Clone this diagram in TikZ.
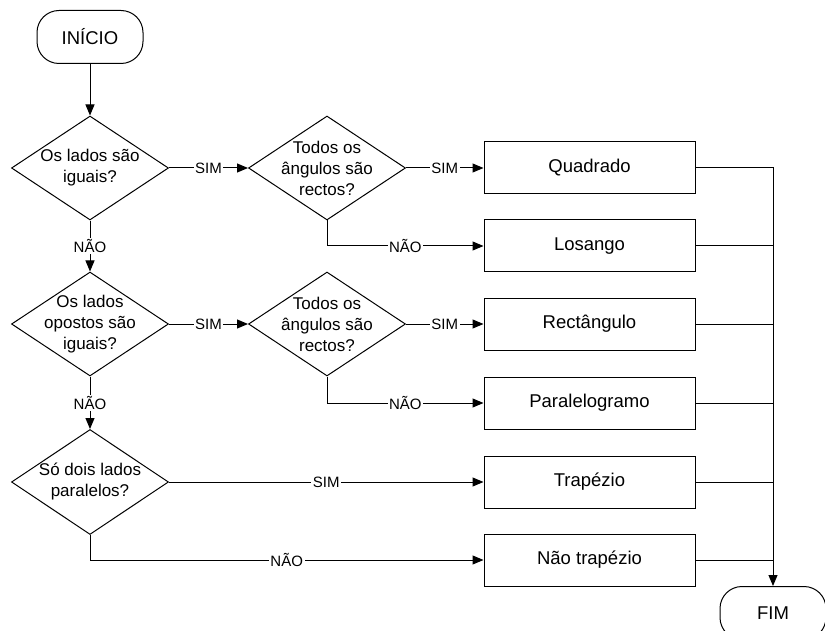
\documentclass[tikz,border=0pt]{standalone}
\usepackage{fontspec}
\setmainfont{Liberation Sans}
\usetikzlibrary{shapes.geometric,arrows.meta}
\begin{document}
\begin{tikzpicture}[x=1pt,y=-1pt,line width=1pt,
  every node/.style={font=\fontsize{18.5}{22}\selectfont},
  term/.style={draw, rounded corners=22pt, minimum width=106pt, minimum height=53pt, inner sep=0pt},
  dia/.style={draw, diamond, minimum width=157pt, minimum height=104pt, inner sep=0pt},
  dtext/.style={align=center, inner sep=0pt, font=\fontsize{17}{21}\selectfont},
  box/.style={draw, rectangle, minimum width=211pt, minimum height=52pt, inner sep=0pt},
  lab/.style={fill=white, inner sep=1.5pt, font=\fontsize{15}{18}\selectfont},
  arr/.style={-{Triangle[length=11pt,width=9pt]}}]
\useasboundingbox (0,0) rectangle (825,631);

% terminals
\node[term] (ini) at (90,37) {INÍCIO};
\node[term] (fim) at (773,613) {FIM};

% decisions
\node[dia] (d1) at (90,168) {};
\node[dtext] (d1t) at (d1) {Os lados são\\iguais?};
\node[dia] (d2) at (327,168) {};
\node[dtext] (d2t) at (d2) {Todos os\\ângulos são\\rectos?};
\node[dia] (d3) at (90,324) {};
\node[dtext] (d3t) at (d3) {Os lados\\opostos são\\iguais?};
\node[dia] (d4) at (327,324) {};
\node[dtext] (d4t) at (d4) {Todos os\\ângulos são\\rectos?};
\node[dia, minimum height=105pt] (d5) at (90,482) {};
\node[dtext] (d5t) at (d5) {Só dois lados\\paralelos?};

% results
\node[box] (qua) at (589.5,168) {Quadrado};
\node[box] (los) at (589.5,246) {Losango};
\node[box] (ret) at (589.5,324) {Rectângulo};
\node[box] (par) at (589.5,403) {Paralelogramo};
\node[box] (tra) at (589.5,482) {Trapézio};
\node[box] (ntr) at (589.5,560) {Não trapézio};

% connectors
\draw[arr] (ini) -- (d1);
\draw[arr] (d1) -- node[lab] {SIM} (d2);
\draw[arr] (d2) -- node[lab] {SIM} (qua);
\draw[arr] (d2.south) |- node[lab, pos=0.75] {NÃO} (los.west);
\draw[arr] (d1) -- node[lab] {NÃO} (d3);
\draw[arr] (d3) -- node[lab] {SIM} (d4);
\draw[arr] (d4) -- node[lab] {SIM} (ret);
\draw[arr] (d4.south) |- node[lab, pos=0.75] {NÃO} (par.west);
\draw[arr] (d3) -- node[lab] {NÃO} (d5);
\draw[arr] (d5) -- node[lab] {SIM} (tra);
\draw[arr] (d5.south) |- node[lab, pos=0.75] {NÃO} (ntr.west);

% collector
\draw[arr] (qua.east) -| (fim.north);
\foreach \b in {los,ret,par,tra,ntr}
  \draw (\b.east) -- (\b.east -| fim.north);
\end{tikzpicture}
\end{document}
